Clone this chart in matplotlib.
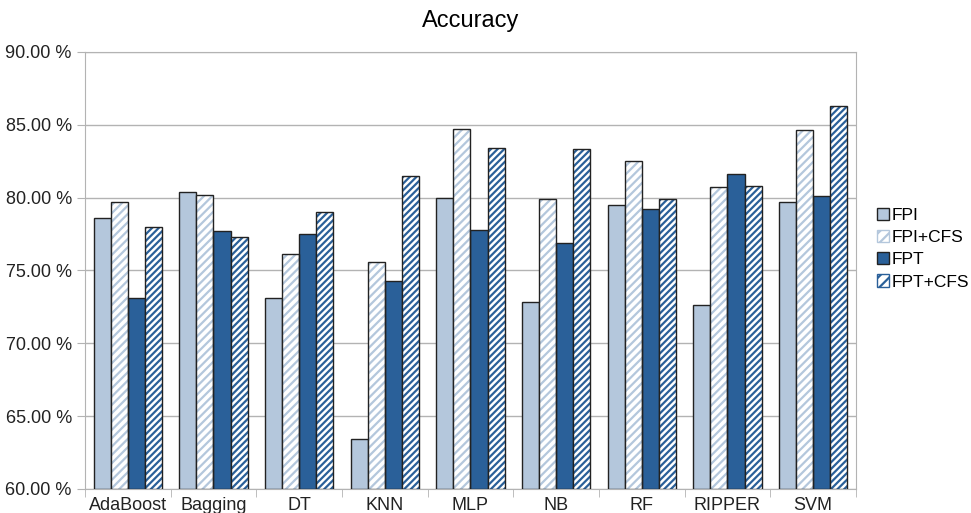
import numpy as np
import matplotlib.pyplot as plt
from matplotlib.patches import Patch

# Data
classifiers = ['AdaBoost', 'Bagging', 'DT', 'KNN', 'MLP', 'NB', 'RF', 'RIPPER', 'SVM']
fpi = [78.6, 80.4, 73.1, 63.4, 80.0, 72.8, 79.5, 72.6, 79.7]
fpi_cfs = [79.7, 80.2, 76.1, 75.6, 84.7, 79.9, 82.5, 80.7, 84.6]
fpt = [73.1, 77.7, 77.5, 74.3, 77.8, 76.9, 79.2, 81.6, 80.1]
fpt_cfs = [78.0, 77.3, 79.0, 81.5, 83.4, 83.3, 79.9, 80.8, 86.3]

light = '#b4c7dc'
dark = '#2a6099'
plt.rcParams['font.family'] = ['Liberation Sans', 'DejaVu Sans']
plt.rcParams['hatch.linewidth'] = 1.6

fig = plt.figure(figsize=(9.71, 5.13), dpi=100)
ax = fig.add_axes([0.0875, 0.047, 0.794, 0.852])

x = np.arange(len(classifiers))
w = 0.2
series = [
    ('FPI', fpi, light, None),
    ('FPI+CFS', fpi_cfs, light, '////'),
    ('FPT', fpt, dark, None),
    ('FPT+CFS', fpt_cfs, dark, '/////'),
]

handles = []
for i, (name, vals, col, hatch) in enumerate(series):
    pos = x - 0.3 + i * w
    heights = np.array(vals) - 60
    if hatch is None:
        ax.bar(pos, heights, w, bottom=60, color=col, edgecolor='#222222', linewidth=1.0, zorder=3)
        handles.append(Patch(facecolor=col, edgecolor='#222222', label=name))
    else:
        # hatch in series colour, black outline drawn on top
        ax.bar(pos, heights, w, bottom=60, facecolor='white', edgecolor=col, hatch=hatch, linewidth=0, zorder=3)
        ax.bar(pos, heights, w, bottom=60, facecolor='none', edgecolor='#222222', linewidth=1.0, zorder=4)
        handles.append(Patch(facecolor='white', edgecolor=col, hatch='///', label=name))

ax.set_ylim(60, 90)
ax.set_xlim(-0.5, len(classifiers) - 0.5)
ax.set_yticks(np.arange(60, 91, 5))
ax.set_yticklabels([f'{v:.2f} %' for v in np.arange(60, 91, 5)], fontsize=13, color='#222222')
ax.set_xticks(x)
ax.set_xticklabels(classifiers, fontsize=13, color='#222222')
ax.tick_params(axis='x', length=0, pad=6)
ax.set_xticks(np.arange(-0.5, len(classifiers)), minor=True)
ax.tick_params(axis='x', which='minor', length=6, color='#b3b3b3')
ax.tick_params(axis='y', length=6, color='#b3b3b3')
ax.grid(axis='y', color='#b3b3b3', linewidth=1.0, zorder=0)
ax.set_axisbelow(True)
for s in ax.spines.values():
    s.set_color('#b3b3b3')

ax.set_title('Accuracy', fontsize=17, pad=18)

fig.legend(handles=handles, loc='center left', bbox_to_anchor=(0.903, 0.515),
           frameon=False, fontsize=12.5, handlelength=0.7, handleheight=0.7,
           handletextpad=0.15, labelspacing=0.4, borderpad=0, borderaxespad=0)

fig.savefig('out.png', dpi=100)
